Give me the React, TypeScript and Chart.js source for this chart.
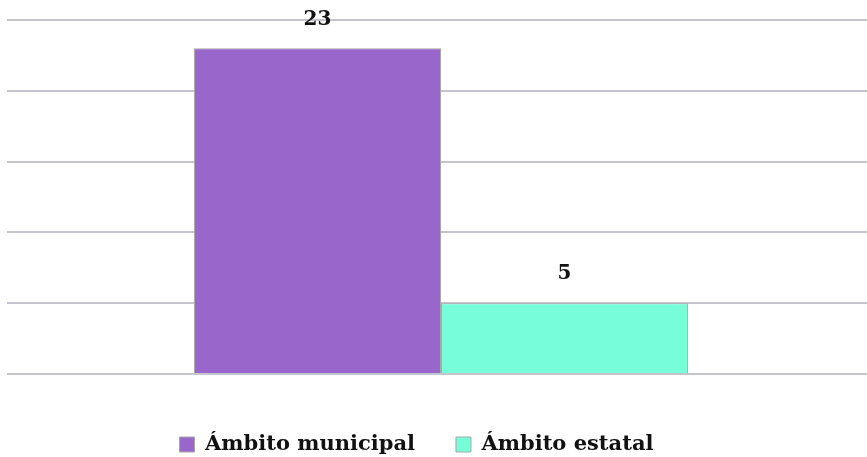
import React, { useEffect, useRef } from "react";
import { Chart, registerables } from "chart.js";

Chart.register(...registerables);

const categories = [""];
const seriesNames = ["Ámbito municipal", "Ámbito estatal"];
const municipalValues = [23];
const estatalValues = [5];
const seriesColors = ["#9966cc", "#77fdd8"];

const FONT = '"DejaVu Serif", serif';

const valueLabels = {
  id: "valueLabels",
  afterDatasetsDraw(chart: any) {
    const ctx = chart.ctx;
    ctx.save();
    ctx.font = `bold 20px ${FONT}`;
    ctx.fillStyle = "#111";
    ctx.textAlign = "center";
    ctx.textBaseline = "middle";
    chart.data.datasets.forEach((ds: any, i: number) => {
      const meta = chart.getDatasetMeta(i);
      meta.data.forEach((el: any, j: number) => {
        ctx.fillText(String(ds.data[j]), el.x, el.y - 29);
      });
    });
    ctx.restore();
  },
};

export default function App() {
  const ref = useRef<HTMLCanvasElement>(null);
  useEffect(() => {
    const chart = new Chart(ref.current!, {
      type: "bar",
      data: {
        labels: categories,
        datasets: [
          {
            label: seriesNames[0],
            data: municipalValues,
            backgroundColor: seriesColors[0],
            borderColor: "#a8a8a8",
            borderWidth: 1,
          },
          {
            label: seriesNames[1],
            data: estatalValues,
            backgroundColor: seriesColors[1],
            borderColor: "#a8a8a8",
            borderWidth: 1,
          },
        ],
      },
      options: {
        animation: false,
        responsive: false,
        maintainAspectRatio: false,
        layout: { padding: { top: 20, right: 0, left: 0, bottom: 0 } },
        datasets: { bar: { barPercentage: 1, categoryPercentage: 0.58 } },
        plugins: {
          tooltip: { enabled: false },
          legend: {
            position: "bottom",
            labels: {
              font: { family: FONT, size: 21, weight: "bold" },
              color: "#111",
              boxWidth: 15,
              boxHeight: 15,
              padding: 41,
            },
          },
        },
        scales: {
          x: {
            grid: { display: false },
            border: { display: false },
            ticks: { display: false },
            afterFit: (scale: any) => {
              scale.height = 19;
            },
          },
          y: {
            min: 0,
            max: 25,
            ticks: { display: false, stepSize: 5 },
            grid: { color: "#c4c4cc", lineWidth: 2, drawTicks: true, tickLength: 8 },
            border: { display: false },
            afterFit: (scale: any) => {
              scale.width = 49;
            },
          },
        },
      },
      plugins: [valueLabels],
    });
    return () => chart.destroy();
  }, []);
  return (
    <div
      style={{
        position: "absolute",
        left: 0,
        top: 0,
        width: 867,
        height: 457,
        overflow: "hidden",
      }}
    >
      <canvas
        ref={ref}
        width={901}
        height={465}
        style={{ position: "absolute", left: -34, top: 0 }}
      />
    </div>
  );
}
